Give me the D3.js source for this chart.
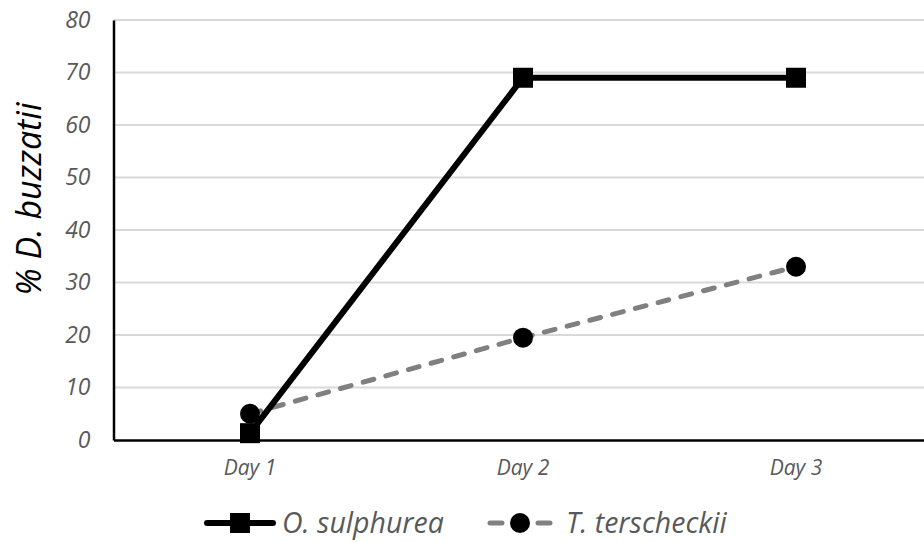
<!DOCTYPE html>
<html>
<head>
<meta charset="utf-8">
<script src="https://cdn.jsdelivr.net/npm/d3@7"></script>
<style>
  body { margin: 0; background: #fff; }
  text { font-family: "Open Sans", sans-serif; font-style: italic; }
</style>
</head>
<body>
<svg id="chart" width="924" height="542"></svg>
<script>
// ******************** Data ************************
var days = ["Day 1", "Day 2", "Day 3"];
var sulphurea = [1.3, 69, 69];      // O. sulphurea
var terscheckii = [5, 19.5, 33];    // T. terscheckii
var yTicks = [0, 10, 20, 30, 40, 50, 60, 70, 80];
var seriesNames = ["O. sulphurea", "T. terscheckii"];

// ******************** Scales ************************
var x = d3.scaleBand().domain(days).range([113.5, 932.5]).padding(0);
var y = d3.scaleLinear().domain([0, 80]).range([440, 20]);
var cx = function (d, i) { return x(days[i]) + x.bandwidth() / 2; };

var svg = d3.select("#chart");

// gridlines
svg.append("g")
    .selectAll("line")
    .data(yTicks.filter(function (d) { return d > 0; }))
    .enter().append("line")
    .attr("x1", 113.5).attr("x2", 924)
    .attr("y1", function (d) { return y(d); })
    .attr("y2", function (d) { return y(d); })
    .style("stroke", "#d9d9d9")
    .style("stroke-width", 2);

// y axis
var yAxis = svg.append("g")
    .attr("transform", "translate(113.5,0)")
    .call(d3.axisLeft(y).tickValues(yTicks).tickSize(0).tickPadding(23));
yAxis.select(".domain").style("stroke", "#000").style("stroke-width", 2.5);
yAxis.selectAll("text")
    .style("font-family", "'Open Sans', sans-serif")
    .style("font-style", "italic")
    .style("font-size", "23px")
    .style("fill", "#595959");

// x axis
var xAxis = svg.append("g")
    .attr("transform", "translate(0,440)")
    .call(d3.axisBottom(x).tickSize(0).tickPadding(20));
xAxis.select(".domain").style("stroke", "#000").style("stroke-width", 2.5);
xAxis.selectAll("text")
    .style("font-family", "'Open Sans', sans-serif")
    .style("font-style", "italic")
    .style("font-size", "21px")
    .style("fill", "#595959");

// y title
svg.append("text")
    .attr("transform", "translate(41,199) rotate(-90)")
    .attr("text-anchor", "middle")
    .style("font-size", "34px")
    .style("fill", "#000")
    .text("% D. buzzatii");

var line = d3.line().x(cx).y(function (d) { return y(d); });

// T. terscheckii (dashed gray, circles)
svg.append("path")
    .attr("d", line(terscheckii))
    .style("fill", "none")
    .style("stroke", "#808080")
    .style("stroke-width", 5)
    .style("stroke-dasharray", "11,12.5")
    .style("stroke-linecap", "round");
svg.append("g").selectAll("circle")
    .data(terscheckii).enter().append("circle")
    .attr("cx", cx)
    .attr("cy", function (d) { return y(d); })
    .attr("r", 10)
    .style("fill", "#000");

// O. sulphurea (solid black, squares)
svg.append("path")
    .attr("d", line(sulphurea))
    .style("fill", "none")
    .style("stroke", "#000")
    .style("stroke-width", 6);
svg.append("g").selectAll("rect")
    .data(sulphurea).enter().append("rect")
    .attr("x", function (d, i) { return cx(d, i) - 10; })
    .attr("y", function (d) { return y(d) - 10; })
    .attr("width", 20).attr("height", 20)
    .style("fill", "#000");

// ******************** Legend ************************
var ly = 523;
var leg1 = svg.append("g");
leg1.append("line")
    .attr("x1", 207).attr("x2", 273).attr("y1", ly).attr("y2", ly)
    .style("stroke", "#000").style("stroke-width", 6).style("stroke-linecap", "round");
leg1.append("rect")
    .attr("x", 230).attr("y", ly - 10).attr("width", 20).attr("height", 20)
    .style("fill", "#000");
leg1.append("text")
    .attr("x", 282).attr("y", ly + 10)
    .style("font-size", "28.5px").style("fill", "#595959")
    .text(seriesNames[0]);

var leg2 = svg.append("g");
leg2.append("line")
    .attr("x1", 490).attr("x2", 550).attr("y1", ly).attr("y2", ly)
    .style("stroke", "#808080").style("stroke-width", 5)
    .style("stroke-dasharray", "12,36").style("stroke-linecap", "round");
leg2.append("circle")
    .attr("cx", 520).attr("cy", ly).attr("r", 10)
    .style("fill", "#000");
leg2.append("text")
    .attr("x", 566).attr("y", ly + 10)
    .style("font-size", "28.5px").style("fill", "#595959")
    .text(seriesNames[1]);
</script>
</body>
</html>
